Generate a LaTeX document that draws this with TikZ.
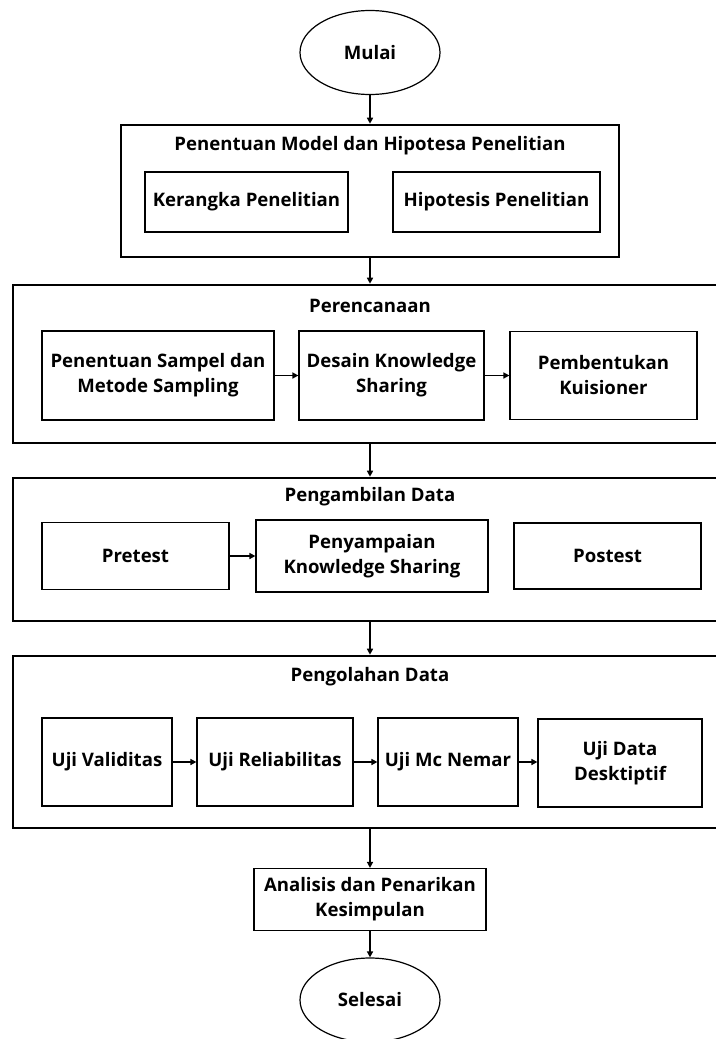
\documentclass[tikz,border=0pt]{standalone}
\usepackage{fontspec}
\setmainfont{Open Sans}
\usetikzlibrary{arrows.meta,shapes.geometric}

\tikzset{
	outerbox/.style={draw, line width=2.6pt, minimum width=#1, inner sep=0pt},
	innerbox/.style={draw, line width=1.2pt, align=center, inner sep=0pt, font=\fontsize{18.6}{25}\selectfont\bfseries},
	endpoint/.style={draw, ellipse, line width=1.2pt, minimum width=140pt, minimum height=84pt, inner sep=0pt, font=\fontsize{18.6}{25}\selectfont\bfseries},
	boxtitle/.style={font=\fontsize{18.6}{25}\selectfont\bfseries},
	flow/.style={line width=1.5pt, -{Triangle[length=6pt,width=6pt]}}
}

\begin{document}
\begin{tikzpicture}[x=1pt, y=-1pt]
		%%%%% START %%%%%
		\useasboundingbox (0, 0) rectangle (715, 1039);
		
		\node[endpoint] (mulai) at (370, 52.5) {Mulai};
		
		% Penentuan Model dan Hipotesa
		\node[outerbox=498pt, minimum height=132pt] (model) at (370, 191) {};
		\node[boxtitle] (modeltitle) at (370, 146) {Penentuan Model dan Hipotesa Penelitian};
		\node[innerbox, minimum width=203pt, minimum height=60pt] (kerangka) at (246.5, 202) {Kerangka Penelitian};
		\node[innerbox, minimum width=207pt, minimum height=60pt] (hipotesis) at (496.5, 202) {Hipotesis Penelitian};
		
		% Perencanaan
		\node[outerbox=714pt, minimum height=158pt] (rencana) at (370, 364) {};
		\node[boxtitle] (rencanatitle) at (370, 306) {Perencanaan};
		\node[innerbox, minimum width=232pt, minimum height=89pt] (sampel) at (158, 375.5) {Penentuan Sampel dan\\Metode Sampling};
		\node[innerbox, minimum width=185pt, minimum height=89pt] (desain) at (391.5, 375.5) {Desain Knowledge\\Sharing};
		\node[innerbox, minimum width=187pt, minimum height=88pt] (kuisioner) at (603.5, 375.5) {Pembentukan\\Kuisioner};
		
		% Pengambilan Data
		\node[outerbox=714pt, minimum height=143pt] (ambil) at (370, 549.5) {};
		\node[boxtitle] (ambiltitle) at (370, 497) {Pengambilan Data};
		\node[innerbox, minimum width=187pt, minimum height=67pt] (pretest) at (135.5, 556) {Pretest};
		\node[innerbox, minimum width=232pt, minimum height=72pt] (sampai) at (372, 556) {Penyampaian\\Knowledge Sharing};
		\node[innerbox, minimum width=187pt, minimum height=66pt] (postest) at (607.5, 556) {Postest};
		
		% Pengolahan Data
		\node[outerbox=714pt, minimum height=172pt] (olah) at (370, 742) {};
		\node[boxtitle] (olahtitle) at (370, 677) {Pengolahan Data};
		\node[innerbox, minimum width=130pt, minimum height=88pt] (validitas) at (107, 762) {Uji Validitas};
		\node[innerbox, minimum width=156pt, minimum height=88pt] (reliabilitas) at (275, 762) {Uji Reliabilitas};
		\node[innerbox, minimum width=140pt, minimum height=88pt] (mcnemar) at (448, 762) {Uji Mc Nemar};
		\node[innerbox, minimum width=164pt, minimum height=88pt] (deskriptif) at (620, 763) {Uji Data\\Desktiptif};
		
		\node[innerbox, minimum width=232pt, minimum height=62pt] (analisis) at (370, 899.5) {Analisis dan Penarikan\\Kesimpulan};
		\node[endpoint] (selesai) at (370, 1000) {Selesai};
		
		% connectors
		\draw[flow] (mulai) -- (model);
		\draw[flow] (model) -- (rencana);
		\draw[flow] (rencana) -- (ambil);
		\draw[flow] (ambil) -- (olah);
		\draw[flow] (olah) -- (analisis);
		\draw[flow] (analisis) -- (selesai);
		
		\draw[flow] (sampel) -- (desain);
		\draw[flow] (desain) -- (kuisioner);
		\draw[flow] (pretest) -- (sampai);
		\draw[flow] (validitas) -- (reliabilitas);
		\draw[flow] (reliabilitas) -- (mcnemar);
		\draw[flow] (mcnemar) -- (deskriptif.west |- mcnemar);
		
		%%%%% END %%%%%
	\end{tikzpicture}
\end{document}
